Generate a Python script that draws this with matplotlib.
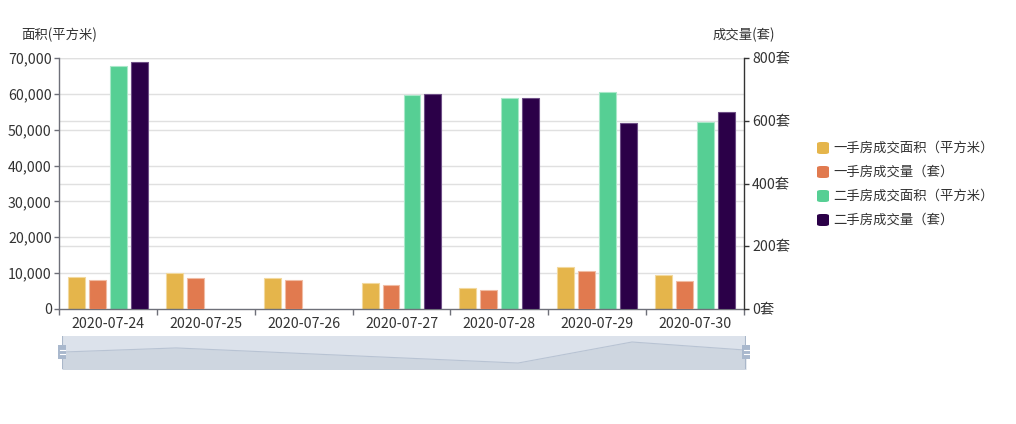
import matplotlib
matplotlib.use('Agg')
import matplotlib.pyplot as plt
import numpy as np
from matplotlib.patches import FancyBboxPatch, Rectangle
from matplotlib.transforms import blended_transform_factory

plt.rcParams['font.family'] = ['Noto Sans CJK SC', 'DejaVu Sans']

# ---------------- data ----------------
dates = ['2020-07-24', '2020-07-25', '2020-07-26', '2020-07-27',
         '2020-07-28', '2020-07-29', '2020-07-30']
new_area = [8900, 10050, 8650, 7250, 5850, 11700, 9450]        # 一手房成交面积 (left)
new_count = [92, 99, 92, 76, 61, 121, 89]                       # 一手房成交量 (right)
second_area = [67800, 0, 0, 59700, 58850, 60600, 52200]         # 二手房成交面积 (left)
second_count = [787, 0, 0, 685, 672, 593, 627]                  # 二手房成交量 (right)
series_names = ['一手房成交面积（平方米）', '一手房成交量（套）',
                '二手房成交面积（平方米）', '二手房成交量（套）']
colors = ['#e5b54b', '#e17a4f', '#56cf94', '#2b0048']
edge_colors = ['#f2d99e', '#f0bca4', '#a9e8c9', '#6e4f86']
left_ticks = [0, 10000, 20000, 30000, 40000, 50000, 60000, 70000]
right_ticks = [0, 200, 400, 600, 800]

W, H = 1016, 424
fig = plt.figure(figsize=(W / 100, H / 100), dpi=100)

def px_axes(x0, y0, x1, y1):
    return fig.add_axes([x0 / W, 1 - y1 / H, (x1 - x0) / W, (y1 - y0) / H])

ax = px_axes(59, 58, 744, 309)
ax2 = ax.twinx()

txt = '#333333'
grid_c = '#e0e0e0'
num_fs = 10.2
cjk_fs = 9.6
n = len(dates)
x = np.arange(n)
bw = 0.173
step = 0.214
offs = [-1.5 * step, -0.5 * step, 0.5 * step, 1.5 * step]

ax.set_xlim(-0.5, n - 0.5)
ax.set_ylim(0, 70000)
ax2.set_ylim(0, 800)

# gridlines for both axes, drawn in bottom axes behind everything
for v in left_ticks[1:]:
    ax.axhline(v, color=grid_c, lw=1.0, zorder=0)
tr = blended_transform_factory(ax.transAxes, ax2.transData)
for v in right_ticks[1:]:
    ax.plot([0, 1], [v, v], transform=tr, color=grid_c, lw=1.0, zorder=0)

def widths(vals):
    return [0.8 if v > 0 else 0 for v in vals]

ax.bar(x + offs[0], new_area, bw, color=colors[0], edgecolor=edge_colors[0], lw=widths(new_area), zorder=2)
ax.bar(x + offs[2], second_area, bw, color=colors[2], edgecolor=edge_colors[2], lw=widths(second_area), zorder=2)
ax2.bar(x + offs[1], new_count, bw, color=colors[1], edgecolor=edge_colors[1], lw=widths(new_count), zorder=2)
ax2.bar(x + offs[3], second_count, bw, color=colors[3], edgecolor=edge_colors[3], lw=widths(second_count), zorder=2)

# x axis: ticks at category boundaries, labels at centres
ax.set_xticks(np.arange(-0.5, n, 1.0))
ax.set_xticklabels([])
ax.set_xticks(x, minor=True)
ax.set_xticklabels(dates, minor=True)
ax.tick_params(axis='x', which='major', length=4, width=1, color='#6e7079', direction='out')
ax.tick_params(axis='x', which='minor', length=0, pad=5.5, labelsize=num_fs, labelcolor=txt)

ax.set_yticks(left_ticks)
ax.set_yticklabels([f'{v:,}' for v in left_ticks])
ax.tick_params(axis='y', length=3.6, width=1, color='#6e7079', pad=1.6, labelsize=num_fs, labelcolor=txt)

ax2.set_yticks(right_ticks)
ax2.set_yticklabels([f'{v}套' for v in right_ticks])
ax2.tick_params(axis='y', length=3.6, width=1, color='#333333', pad=2.2, labelsize=num_fs, labelcolor=txt)

ax.spines['top'].set_visible(False)
ax2.spines['top'].set_visible(False)
ax.spines['right'].set_visible(False)
ax2.spines['left'].set_visible(False)
ax2.spines['bottom'].set_visible(False)
ax.spines['left'].set_color('#6e7079')
ax.spines['bottom'].set_color('#6e7079')
ax2.spines['right'].set_color('#333333')
for sp in [ax.spines['left'], ax.spines['bottom'], ax2.spines['right']]:
    sp.set_linewidth(1.0)

fig.text(59 / W, 1 - 35 / H, '面积(平方米)', ha='center', va='center', fontsize=cjk_fs, color=txt)
fig.text(744 / W, 1 - 35 / H, '成交量(套)', ha='center', va='center', fontsize=cjk_fs, color=txt)

# legend
for i, (lab, col) in enumerate(zip(series_names, colors)):
    yc = 148 + 24 * i
    fig.patches.append(FancyBboxPatch((817 / W, 1 - (yc + 6) / H), 12 / W, 12 / H,
                                      boxstyle='round,pad=0,rounding_size=0.004',
                                      transform=fig.transFigure, facecolor=col, edgecolor='none'))
    fig.text(833 / W, 1 - yc / H, lab, ha='left', va='center', fontsize=cjk_fs, color=txt)

# data zoom slider with data shadow (first series)
axz = px_axes(62, 336, 746, 369)
axz.set_xlim(0, n - 1)
axz.set_ylim(4190, 13370)
axz.set_facecolor('#dce2eb')
axz.fill_between(x, new_area, 0, color='#ced6e0', lw=0)
axz.plot(x, new_area, color='#b8c3d3', lw=0.8)
axz.set_xticks([])
axz.set_yticks([])
for s in axz.spines.values():
    s.set_visible(False)
axz.axvline(0, color='#aab7c9', lw=1.5)
axz.axvline(n - 1, color='#aab7c9', lw=1.5)

for xc in [62, 746]:
    fig.patches.append(Rectangle(((xc - 4) / W, 1 - 359 / H), 8 / W, 14 / H,
                                 transform=fig.transFigure, facecolor='#a9b8cd', edgecolor='none'))
    for yy in [350, 354]:
        fig.lines.append(plt.Line2D([(xc - 2.5) / W, (xc + 2.5) / W], [1 - yy / H, 1 - yy / H],
                                    transform=fig.transFigure, color='white', lw=0.8))

fig.savefig('out.png', dpi=100)
